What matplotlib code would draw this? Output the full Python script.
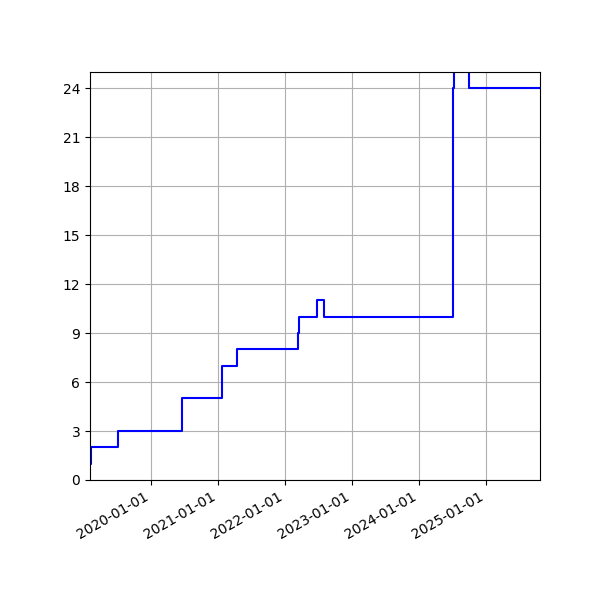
import matplotlib
matplotlib.use("Agg")
import matplotlib.pyplot as plt
import matplotlib.dates as mdates
import numpy as np

# step dates and counts (value holds until the next date)
dates = ["2019-02-03", "2019-02-10", "2019-07-08", "2020-06-19", "2021-01-23",
         "2021-04-14", "2022-03-12", "2022-03-18", "2022-06-22", "2022-08-01",
         "2024-07-05", "2024-07-10", "2024-09-27", "2025-10-21"]
counts = [1, 2, 3, 5, 7, 8, 9, 10, 11, 10, 24, 30, 24, 24]

x = np.array(dates, dtype="datetime64[D]")

fig, ax = plt.subplots(figsize=(6, 6), dpi=100)
ax.plot(x, counts, color="blue", drawstyle="steps-post")

ax.set_xlim(x[0], x[-1])
ax.set_ylim(0, 25)
ax.yaxis.set_major_locator(plt.MultipleLocator(3))
ax.xaxis.set_major_locator(mdates.YearLocator())
ax.xaxis.set_major_formatter(mdates.DateFormatter("%Y-%m-%d"))
ax.grid(True)

fig.autofmt_xdate()
fig.subplots_adjust(left=0.15, right=0.9, top=0.88, bottom=0.2)
fig.savefig("out.png")
